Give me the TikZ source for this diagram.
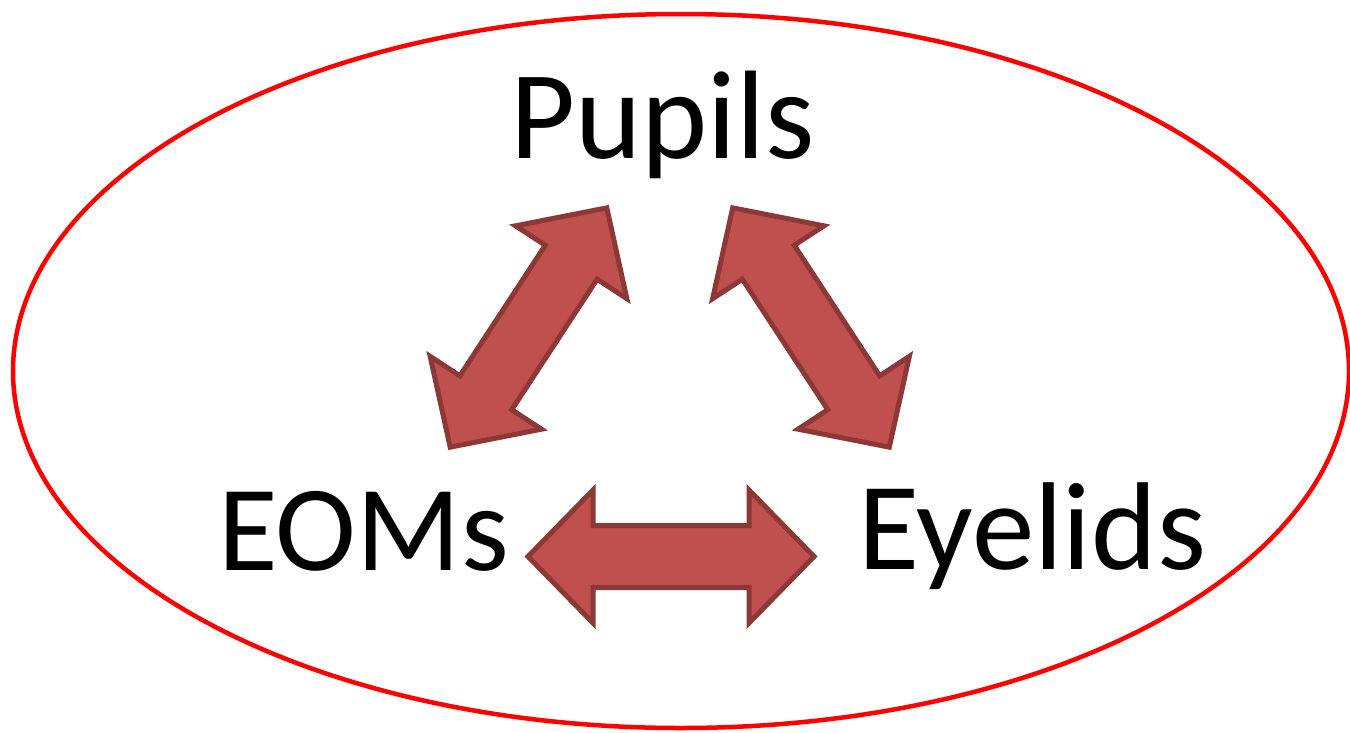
\documentclass[tikz,border=0pt]{standalone}
\usepackage{fontspec}
\setmainfont{Carlito}
\definecolor{arrowfill}{HTML}{C0504D}
\definecolor{arrowline}{HTML}{8C3836}
\definecolor{ringred}{HTML}{FF0000}
\tikzset{
  blockarrow/.style={fill=arrowfill, draw=arrowline, line width=5pt, line join=miter},
  dblarr/.pic={
    \draw[blockarrow] (-143,0) -- (-78,66.5) -- (-78,31) -- (78,31) -- (78,66.5)
      -- (143,0) -- (78,-66.5) -- (78,-31) -- (-78,-31) -- (-78,-66.5) -- cycle;
  },
  bigword/.style={anchor=base, inner sep=0pt, text=black},
}
\begin{document}
\begin{tikzpicture}[x=1pt, y=-1pt]
  \useasboundingbox (0,0) rectangle (1350,732);
  \fill[white] (0,0) rectangle (1350,732);
  \draw[ringred, line width=4.5pt] (681,371) ellipse [x radius=668, y radius=357];
  \node[bigword, font=\fontsize{126}{134}\selectfont] (pupils) at (662.5,158) {Pupils};
  \node[bigword, font=\fontsize{122}{130}\selectfont] (eoms) at (363.5,570) {EOMs};
  \node[bigword, font=\fontsize{125}{132}\selectfont] (eyelids) at (1032.5,569) {Eyelids};
  \pic (harrow) at (671,556.5) {dblarr};
  \pic[rotate=56.8] (larrow) at (528.5,327.5) {dblarr};
  \pic[rotate=-56.8] (rarrow) at (811,327.5) {dblarr};
\end{tikzpicture}
\end{document}
